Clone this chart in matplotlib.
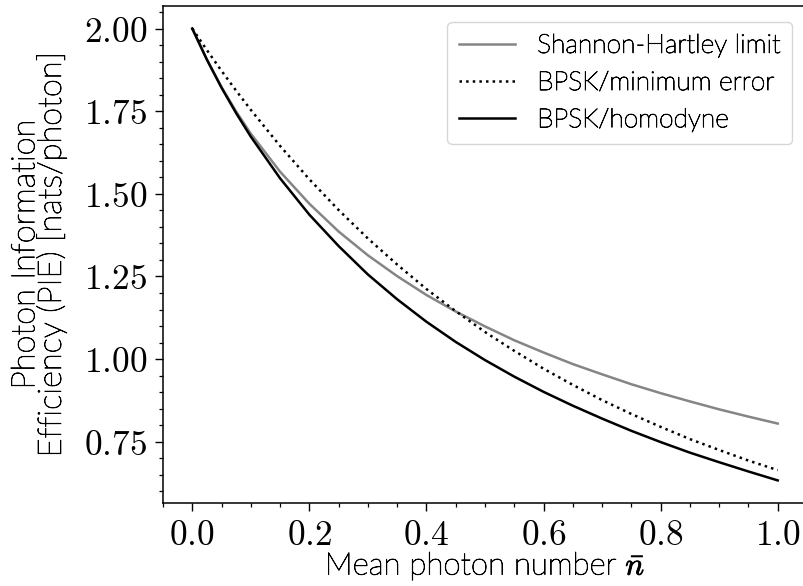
import matplotlib
matplotlib.use("Agg")
import matplotlib.pyplot as plt
import matplotlib.patheffects as pe
from matplotlib.ticker import FuncFormatter, MultipleLocator

plt.rcParams['mathtext.fontset'] = 'cm'
plt.rcParams['font.family'] = ['Lato', 'DejaVu Sans']

n_bar = [0.0, 0.025, 0.05, 0.075, 0.1, 0.15, 0.2, 0.25, 0.3, 0.35, 0.4, 0.45,
         0.5, 0.55, 0.6, 0.65, 0.7, 0.75, 0.8, 0.85, 0.9, 0.95, 1.0]
shannon = [2.000, 1.906, 1.823, 1.749, 1.682, 1.567, 1.470, 1.386, 1.314, 1.251,
           1.194, 1.144, 1.099, 1.057, 1.020, 0.985, 0.954, 0.924, 0.897, 0.872,
           0.848, 0.826, 0.805]
bpsk_min_err = [2.000, 1.935, 1.872, 1.812, 1.754, 1.645, 1.544, 1.451, 1.365,
                1.286, 1.212, 1.145, 1.082, 1.025, 0.971, 0.922, 0.876, 0.834,
                0.795, 0.758, 0.725, 0.693, 0.664]
bpsk_homodyne = [2.000, 1.906, 1.821, 1.744, 1.673, 1.547, 1.437, 1.342, 1.256,
                 1.181, 1.113, 1.052, 0.997, 0.947, 0.901, 0.859, 0.820, 0.783,
                 0.749, 0.717, 0.688, 0.660, 0.633]

labels = ["Shannon-Hartley limit", "BPSK/minimum error", "BPSK/homodyne"]

fig = plt.figure(figsize=(8.04, 5.86), dpi=100)
ax = fig.add_axes([163/804, 83/586, 644/804, 497/586])

lw = 1.8
ax.plot(n_bar, shannon, color='#858585', lw=lw, label=labels[0])
ax.plot(n_bar, bpsk_min_err, color='black', lw=lw, ls=':', label=labels[1])
ax.plot(n_bar, bpsk_homodyne, color='black', lw=lw, label=labels[2])

ax.margins(0.05)
ax.xaxis.set_major_locator(MultipleLocator(0.2))
ax.xaxis.set_minor_locator(MultipleLocator(0.05))
ax.yaxis.set_major_locator(MultipleLocator(0.25))
ax.yaxis.set_minor_locator(MultipleLocator(0.05))
ax.xaxis.set_major_formatter(FuncFormatter(lambda v, p: f'${v:.1f}$'))
ax.yaxis.set_major_formatter(FuncFormatter(lambda v, p: f'${v:.2f}$'))
ax.tick_params(which='major', length=5.5, width=1.0, labelsize=25.5, pad=6)
ax.tick_params(which='minor', length=3.2, width=0.9)
for s in ax.spines.values():
    s.set_linewidth(1.1)

stroke = [pe.withStroke(linewidth=0.6, foreground='black')]

xl = ax.set_xlabel(r'Mean photon number $\bar{n}$', fontsize=22.5, labelpad=-1,
                   fontweight='light')
yl = ax.set_ylabel('Photon Information\nEfficiency (PIE) [nats/photon]', fontsize=23.5,
                   labelpad=12, linespacing=0.8, fontweight='light')
xl.set_path_effects(stroke)
yl.set_path_effects(stroke)

leg = ax.legend(loc='upper right', handlelength=2.1, handletextpad=0.85,
                frameon=True, borderpad=0.45, labelspacing=0.5, fancybox=True,
                bbox_to_anchor=(0.9767, 0.9678), borderaxespad=0,
                prop={'family': ['Lato', 'DejaVu Sans'], 'weight': 'light', 'size': 19})
for t in leg.get_texts():
    t.set_path_effects(stroke)

fig.savefig('out.png', dpi=100)
